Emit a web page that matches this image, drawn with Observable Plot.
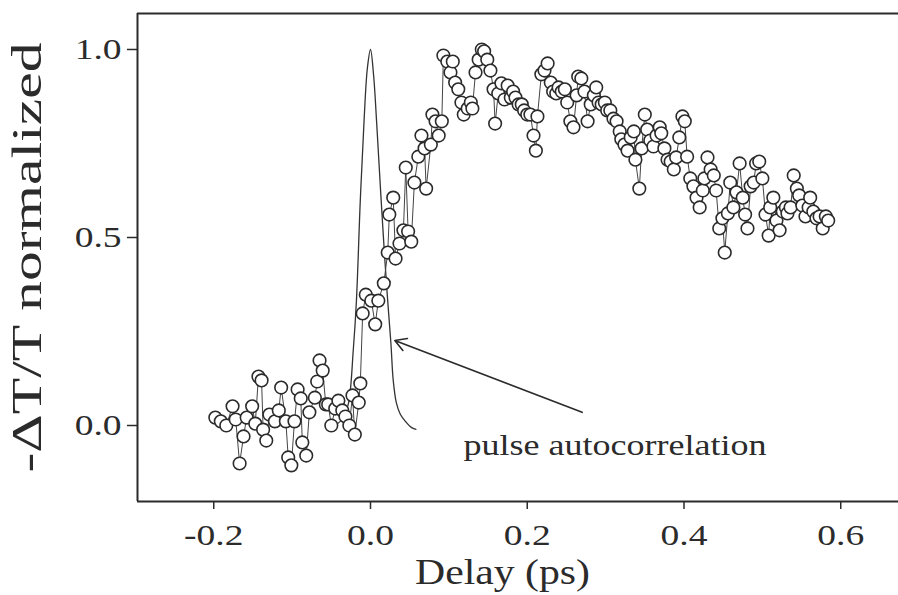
<!DOCTYPE html>
<html><head><meta charset="utf-8">
<script src="https://cdn.jsdelivr.net/npm/d3@7"></script>
<script src="https://cdn.jsdelivr.net/npm/@observablehq/plot@0.6"></script>
<style>body{margin:0;background:#fff}</style>
</head><body><div id="chart"></div>
<script>
// measured pump-probe scan: [delay (ps), -ΔT/T normalized]
const scan = [
[-0.198,0.021],[-0.191,0.011],[-0.184,0.000],[-0.176,0.051],[-0.172,0.016],[-0.167,-0.101],[-0.162,-0.029],[-0.158,0.021],[-0.151,0.051],[-0.147,0.005],
[-0.143,0.130],[-0.139,0.120],[-0.137,-0.011],[-0.133,-0.040],[-0.129,0.029],[-0.122,0.011],[-0.117,0.040],[-0.114,0.101],[-0.108,0.011],[-0.105,-0.085],
[-0.101,-0.106],[-0.097,0.011],[-0.093,0.096],[-0.089,0.072],[-0.087,-0.045],[-0.082,-0.080],[-0.078,0.035],[-0.071,0.074],[-0.068,0.117],[-0.065,0.173],
[-0.061,0.146],[-0.057,0.056],[-0.054,0.056],[-0.050,0.000],[-0.045,0.045],[-0.041,0.066],[-0.036,0.040],[-0.032,0.024],[-0.027,0.000],[-0.023,0.080],
[-0.020,-0.024],[-0.015,0.061],[-0.013,0.112],
[-0.010,0.298],[-0.006,0.348],[0.001,0.332],[0.006,0.269],[0.010,0.332],[0.017,0.378],[0.022,0.460],[0.024,0.561],[0.029,0.606],[0.032,0.444],
[0.037,0.484],[0.042,0.519],[0.045,0.686],[0.048,0.516],[0.052,0.489],[0.056,0.646],[0.061,0.715],[0.065,0.771],[0.069,0.737],[0.071,0.630],
[0.077,0.747],[0.079,0.827],[0.083,0.809],[0.087,0.771],[0.091,0.809],[0.093,0.984],[0.098,0.968],[0.102,0.939],[0.105,0.968],[0.108,0.912],
[0.112,0.894],[0.116,0.859],[0.119,0.827],[0.124,0.843],[0.128,0.859],[0.130,0.843],[0.134,0.939],[0.138,0.973],[0.142,1.000],[0.145,0.995],
[0.149,0.973],[0.153,0.944],[0.157,0.894],[0.159,0.803],[0.163,0.883],[0.167,0.910],[0.171,0.867],[0.175,0.904],[0.179,0.872],[0.182,0.888],
[0.185,0.872],[0.189,0.854],[0.193,0.854],[0.196,0.838],[0.200,0.827],[0.204,0.827],[0.208,0.771],[0.211,0.731],[0.213,0.822],[0.218,0.934],
[0.222,0.944],[0.226,0.963],[0.230,0.912],[0.233,0.888],[0.237,0.883],[0.240,0.899],[0.244,0.888],[0.248,0.894],[0.251,0.859],[0.255,0.809],
[0.259,0.793],[0.263,0.878],[0.265,0.928],[0.269,0.923],[0.273,0.888],[0.277,0.809],[0.281,0.854],[0.285,0.878],[0.288,0.899],[0.291,0.859],
[0.295,0.854],[0.299,0.859],[0.302,0.838],[0.306,0.838],[0.310,0.816],[0.314,0.809],[0.318,0.782],[0.320,0.761],[0.324,0.747],[0.328,0.731],
[0.332,0.766],[0.336,0.782],[0.338,0.707],[0.343,0.630],[0.346,0.737],[0.350,0.827],[0.353,0.787],[0.357,0.758],[0.361,0.742],[0.365,0.771],
[0.369,0.793],[0.371,0.777],[0.375,0.737],[0.379,0.707],[0.383,0.702],[0.387,0.681],[0.390,0.713],[0.394,0.766],[0.398,0.822],[0.401,0.809],
[0.404,0.715],[0.408,0.657],[0.412,0.636],[0.416,0.606],[0.420,0.580],[0.424,0.625],[0.426,0.657],[0.430,0.713],[0.434,0.681],[0.438,0.665],
[0.441,0.625],[0.445,0.524],[0.449,0.551],[0.452,0.460],[0.456,0.564],[0.459,0.646],[0.463,0.580],[0.467,0.620],[0.471,0.697],[0.475,0.606],
[0.478,0.561],[0.481,0.524],[0.485,0.636],[0.489,0.646],[0.492,0.697],[0.496,0.702],[0.500,0.657],[0.504,0.561],[0.508,0.505],[0.510,0.580],
[0.514,0.606],[0.518,0.545],[0.522,0.519],[0.526,0.569],[0.530,0.580],[0.532,0.564],[0.536,0.580],[0.540,0.665],[0.544,0.630],[0.547,0.612],
[0.551,0.585],[0.555,0.556],[0.559,0.580],[0.561,0.606],[0.565,0.569],[0.569,0.551],[0.573,0.556],[0.577,0.524],[0.581,0.556],[0.584,0.545]
];
// pulse autocorrelation trace
const acDelay  = [-0.045,-0.035,-0.028,-0.022,-0.018,-0.013,-0.008,-0.004,0.000,0.004,0.008,0.013,0.018,0.022,0.026,0.029,0.033,0.038,0.045,0.052,0.058];
const acSignal = [0.000,0.020,0.060,0.200,0.330,0.600,0.820,0.950,1.000,0.930,0.800,0.620,0.450,0.330,0.220,0.120,0.060,0.030,0.010,-0.005,-0.010];
const xTicks = [-0.2, 0.0, 0.2, 0.4, 0.6];
const yTicks = [0.0, 0.5, 1.0];
const xLabel = "Delay (ps)";
const yLabel = "-\u0394T/T normalized";
const note = "pulse autocorrelation";
const arrowFrom = [0.270, 0.035];
const arrowTo = [0.031, 0.226];

const pts = scan.map(([d, s]) => ({d, s}));
const ac = acDelay.map((d, i) => ({d, s: acSignal[i]}));
const ink = "#2b2b2b";
const font = "'Liberation Serif', 'Times New Roman', serif";

const chart = Plot.plot({
  width: 898, height: 595,
  marginLeft: 137, marginRight: 0, marginTop: 13, marginBottom: 94,
  style: {fontFamily: font, background: "#fff", color: ink},
  x: {domain: [-0.2973, 0.6737]},
  y: {domain: [-0.2021, 1.0957]},
  marks: [
    Plot.ruleY([1.0957], {stroke: ink, strokeWidth: 2}),
    Plot.ruleY([-0.2021], {stroke: ink, strokeWidth: 2}),
    Plot.ruleX([-0.2973], {stroke: ink, strokeWidth: 2}),
    Plot.axisX({ticks: xTicks, tickFormat: d => d.toFixed(1), tickSize: 8, tickPadding: 14, fontSize: 30, label: null, stroke: ink, strokeWidth: 1.5}),
    Plot.axisY({ticks: yTicks, tickFormat: d => d.toFixed(1), tickSize: 10, tickPadding: 6, fontSize: 30, label: null, stroke: ink, strokeWidth: 1.5}),
    Plot.line(ac, {x: "d", y: "s", stroke: "#333", strokeWidth: 1.3, curve: "catmull-rom"}),
    Plot.line(pts, {x: "d", y: "s", stroke: "#444", strokeWidth: 1}),
    Plot.dot(pts, {x: "d", y: "s", r: 6.3, stroke: ink, strokeWidth: 1.6, fill: "#fff"}),
    Plot.arrow([{x1: arrowFrom[0], y1: arrowFrom[1], x2: arrowTo[0], y2: arrowTo[1]}], {x1: "x1", y1: "y1", x2: "x2", y2: "y2", stroke: ink, strokeWidth: 1.6, headLength: 12, bend: 0}),
    Plot.text([note], {frameAnchor: "top-left", dx: 326, dy: 421, textAnchor: "start", fontSize: 29, fill: ink, className: "note"}),
    Plot.text([xLabel], {frameAnchor: "bottom-left", dx: 365, dy: 82, textAnchor: "middle", fontSize: 36, fill: ink, className: "xlab"}),
    Plot.text([yLabel], {frameAnchor: "left", dx: -110, rotate: -90, textAnchor: "middle", fontSize: 42, fill: ink, className: "ylab"})
  ]
});
document.getElementById("chart").appendChild(chart);

// widen serif text to match the reference's horizontally stretched lettering,
// keeping each text's original anchor point
function fit(t, len) {
  const anchor = getComputedStyle(t).textAnchor;
  const x0 = +(t.getAttribute("x") || 0);
  let shift = 0;
  if (anchor === "middle") shift = -len / 2;
  else if (anchor === "end") shift = -len;
  t.setAttribute("textLength", len);
  t.setAttribute("lengthAdjust", "spacingAndGlyphs");
  t.style.textAnchor = "start";
  t.setAttribute("x", x0 + shift);
}
function stretchBy(sel, f) { chart.querySelectorAll(sel).forEach(t => fit(t, t.getComputedTextLength() * f)); }
function stretchTo(sel, len) { chart.querySelectorAll(sel).forEach(t => fit(t, len)); }
stretchBy("[aria-label='x-axis tick label'] text", 1.25);
stretchBy("[aria-label='y-axis tick label'] text", 1.25);
stretchTo(".note text", 303);
stretchTo(".xlab text", 175);
stretchTo(".ylab text", 430);
</script></body></html>
